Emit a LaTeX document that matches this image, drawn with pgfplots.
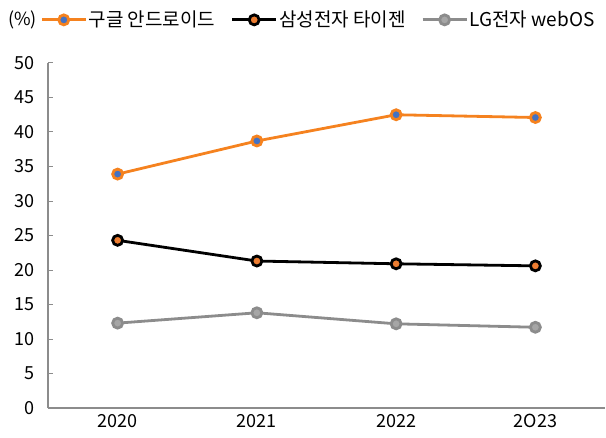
\documentclass[border=0pt]{standalone}
\usepackage{pgfplots}
\pgfplotsset{compat=1.18}
\usepackage{fontspec}
\setmainfont{Noto Sans CJK KR}
\definecolor{cOr}{HTML}{F5821F}
\definecolor{cBl}{HTML}{4472C4}
\definecolor{cOr2}{HTML}{ED7D31}
\definecolor{cGr}{HTML}{8C8C8C}
\definecolor{cGr2}{HTML}{A6A6A6}
\definecolor{cAx}{HTML}{8C8C8C}
\begin{document}
\begin{tikzpicture}
\begin{axis}[
  scale only axis, width=557bp, height=345bp,
  xmin=-0.5, xmax=3.5, ymin=0, ymax=50,
  axis lines=left, axis line style={cAx, line width=1.2bp, -},
  xtick={0,1,2,3}, xticklabels={2020,2021,2022,2O23},
  extra x ticks={0.5,1.5,2.5}, extra x tick labels={},
  extra x tick style={major tick length=5bp, tick style={cAx, line width=1bp}},
  major x tick style={draw=none},
  ytick={0,5,...,50},
  y tick style={cAx, line width=1bp}, major tick length=5bp,
  tick align=inside,
  /pgf/number format/assume math mode=true,
  tick label style={font=\fontsize{18bp}{20bp}\selectfont, text=black},
  yticklabel style={xshift=-10bp},
  xticklabel style={yshift=-3bp},
  clip=false,
  legend columns=3,
  legend style={draw=none, fill=none, font=\fontsize{19bp}{21bp}\selectfont,
    at={(axis description cs:-0.014,1.125)}, anchor=west,
    /tikz/every even column/.append style={column sep=14bp},
    inner sep=0pt, nodes={inner sep=1.5bp}},
  legend image code/.code={\draw[mark repeat=2,mark phase=2,#1] plot coordinates {(0bp,0bp) (22bp,0bp) (44bp,0bp)};},
]
\addplot[cOr, line width=2.8bp, mark=*, mark size=5bp, mark options={fill=cBl, draw=cOr, line width=2.8bp}]
  coordinates {(0,33.9) (1,38.7) (2,42.5) (3,42.1)};
\addlegendentry{구글 안드로이드}
\addplot[black, line width=2.8bp, mark=*, mark size=5bp, mark options={fill=cOr2, draw=black, line width=2.8bp}]
  coordinates {(0,24.3) (1,21.3) (2,20.9) (3,20.6)};
\addlegendentry{삼성전자 타이젠}
\addplot[cGr, line width=2.8bp, mark=*, mark size=5bp, mark options={fill=cGr2, draw=cGr, line width=2.8bp}]
  coordinates {(0,12.3) (1,13.8) (2,12.2) (3,11.7)};
\addlegendentry{LG전자 webOS}
\end{axis}
\node[anchor=west, font=\fontsize{18bp}{20bp}\selectfont, inner sep=0pt] at ([xshift=-40bp,yshift=43bp]current axis.north west) {(\%)};
\pgfresetboundingbox
\path[use as bounding box] ([xshift=-48bp,yshift=-30bp]current axis.south west) rectangle ++(606bp,438bp);
\end{tikzpicture}
\end{document}
